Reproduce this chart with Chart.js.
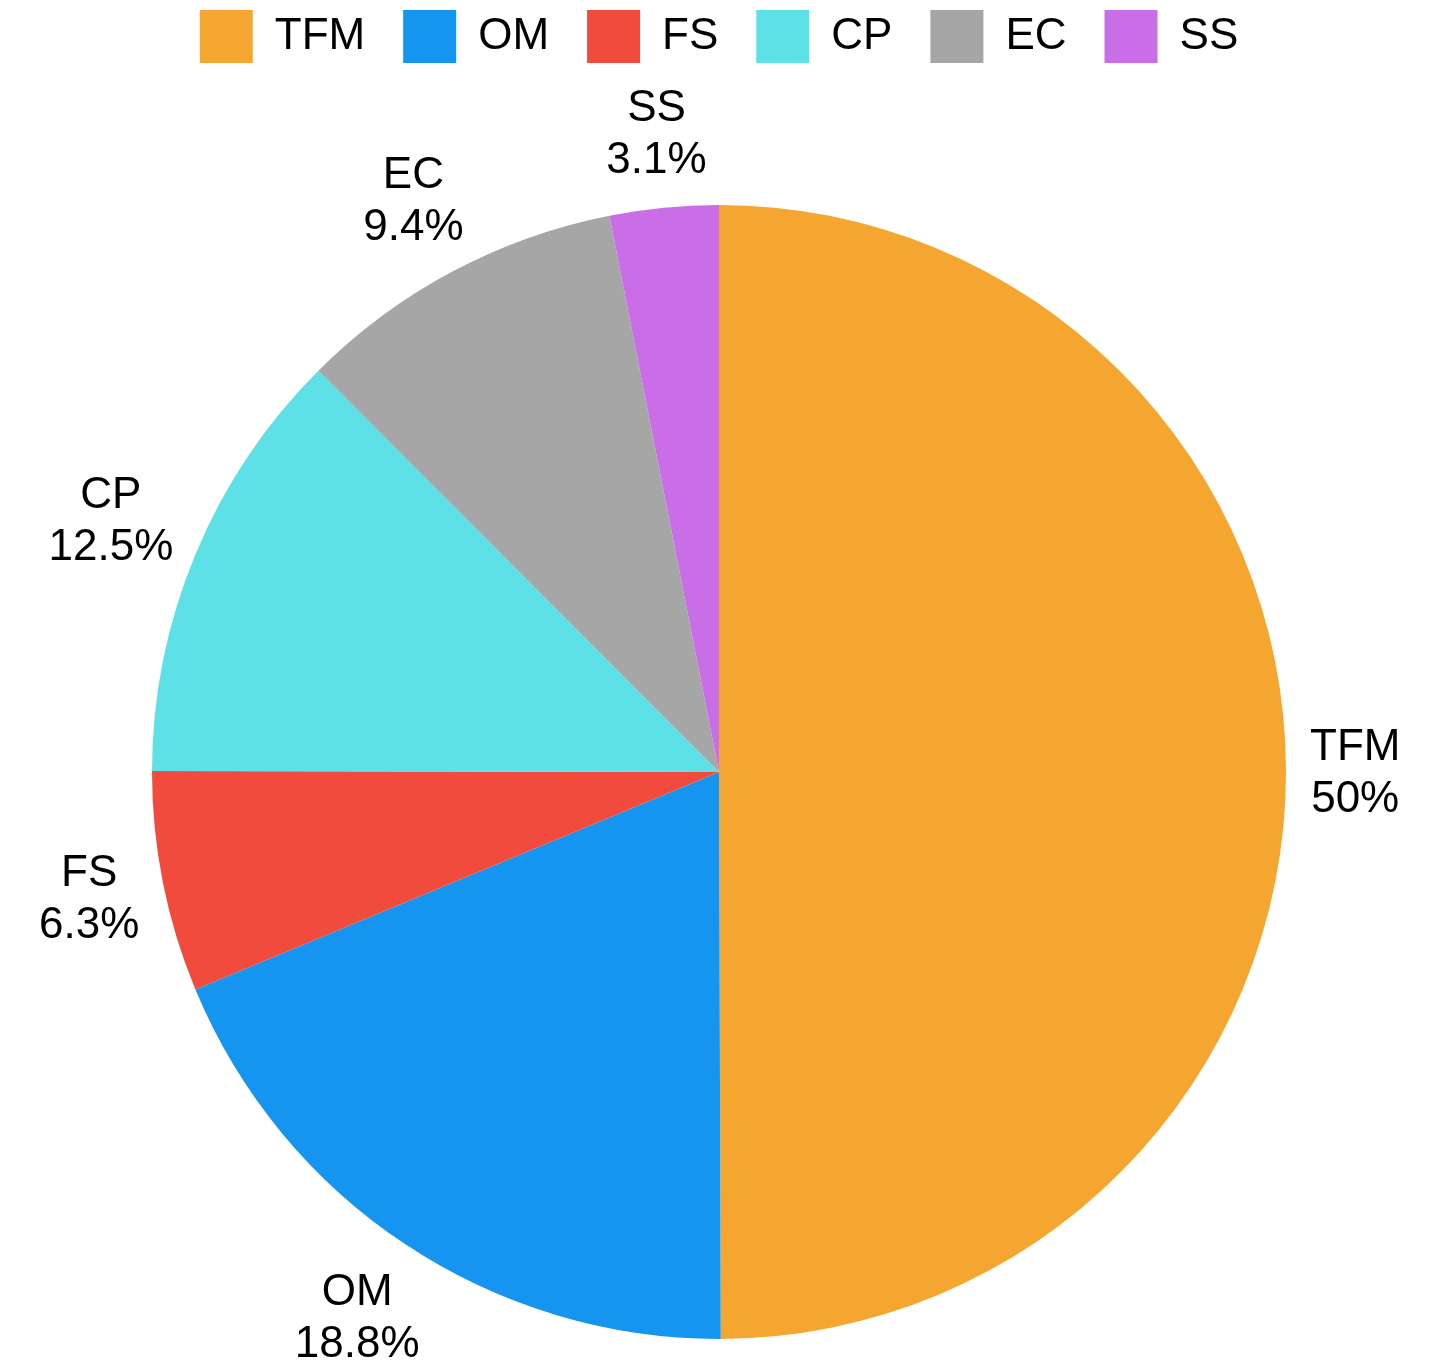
<!DOCTYPE html>
<html>
<head>
<meta charset="utf-8">
<title>Pie</title>
<script src="https://cdn.jsdelivr.net/npm/chart.js@4.4.0/dist/chart.umd.min.js"></script>
<style>
html, body { margin: 0; padding: 0; background: #fff; }
#wrap { width: 1449px; height: 1370px; }
</style>
</head>
<body>
<div id="wrap"><canvas id="pieChart"></canvas></div>
<script>
// data
const categories = ['TFM', 'OM', 'FS', 'CP', 'EC', 'SS'];
const shares = [50, 18.8, 6.3, 12.5, 9.4, 3.1];
const sliceColors = ['#F5A630', '#1594F0', '#F04B3C', '#5DE0E6', '#A6A6A6', '#C96EE6'];

const FONT = 'Helvetica, Arial, "Liberation Sans", sans-serif';

function formatPct(v) {
    return String(v) + '%';
}

// push the pie down below the legend
const legendSpacer = {
    id: 'legendSpacer',
    beforeInit(chart) {
        const fit = chart.legend.fit;
        chart.legend.fit = function () {
            fit.call(this);
            this.height = 233;
        };
    }
};

// name + percent outside each slice
const outerLabels = {
    id: 'outerLabels',
    afterDatasetsDraw(chart) {
        const ctx = chart.ctx;
        const meta = chart.getDatasetMeta(0);
        const lineH = 52;
        const gap = 24;
        ctx.save();
        ctx.font = '44px ' + FONT;
        ctx.fillStyle = '#000';
        ctx.textAlign = 'center';
        ctx.textBaseline = 'middle';
        meta.data.forEach((arc, i) => {
            const p = arc.getProps(['x', 'y', 'startAngle', 'endAngle', 'outerRadius'], true);
            const mid = (p.startAngle + p.endAngle) / 2;
            const cos = Math.cos(mid), sin = Math.sin(mid);
            const name = chart.data.labels[i];
            const pct = formatPct(shares[i]);
            const w = Math.max(ctx.measureText(name).width, ctx.measureText(pct).width);
            const h = 2 * lineH;
            const ax = p.x + cos * (p.outerRadius + gap);
            const ay = p.y + sin * (p.outerRadius + gap);
            const dx = Math.abs(cos) > 1e-6 ? (w / 2) / Math.abs(cos) : Infinity;
            const dy = Math.abs(sin) > 1e-6 ? (h / 2) / Math.abs(sin) : Infinity;
            const d = Math.min(dx, dy);
            const bx = ax + cos * d;
            const by = ay + sin * d + 3;
            ctx.fillText(name, bx, by - lineH / 2);
            ctx.fillText(pct, bx, by + lineH / 2);
        });
        ctx.restore();
    }
};

const ctx = document.getElementById('pieChart').getContext('2d');
new Chart(ctx, {
    type: 'pie',
    data: {
        labels: categories,
        datasets: [{
            data: shares,
            backgroundColor: sliceColors,
            borderWidth: 0
        }]
    },
    options: {
        responsive: true,
        maintainAspectRatio: false,
        animation: false,
        layout: {
            padding: { top: -28, bottom: 31, left: 0, right: 11 }
        },
        plugins: {
            tooltip: { enabled: false },
            legend: {
                position: 'top',
                labels: {
                    color: '#000',
                    boxWidth: 53,
                    boxHeight: 53,
                    padding: 38,
                    font: { size: 44, family: FONT }
                }
            }
        }
    },
    plugins: [legendSpacer, outerLabels]
});
</script>
</body>
</html>
